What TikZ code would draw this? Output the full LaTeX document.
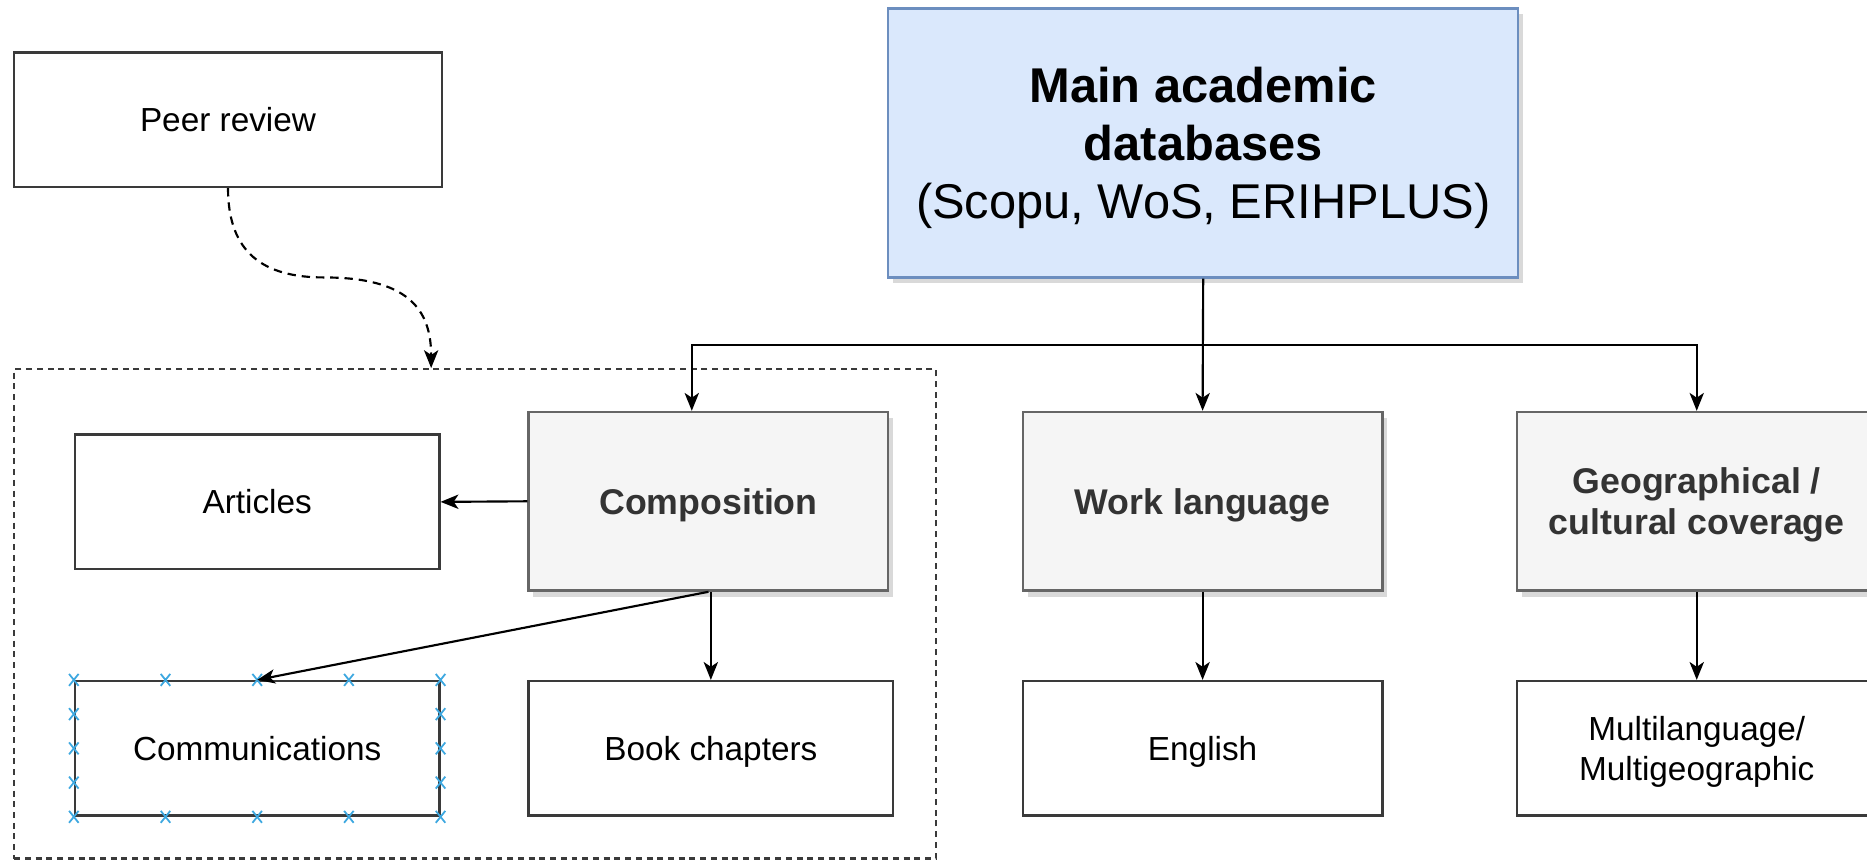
\documentclass[tikz,border=0pt]{standalone}
\usepackage{fontspec}
\setmainfont{Liberation Sans}
\usetikzlibrary{arrows.meta,shadows,calc}
\definecolor{mainfill}{HTML}{DAE8FC}
\definecolor{mainline}{HTML}{6C8EBF}
\definecolor{catfill}{HTML}{F5F5F5}
\definecolor{catline}{HTML}{666666}
\definecolor{catfont}{HTML}{333333}
\definecolor{itemline}{HTML}{3A3A3A}
\definecolor{pointblue}{HTML}{3EA8E0}
\begin{document}
\begin{tikzpicture}[x=1pt,y=-1pt,
	every node/.style={align=center,inner sep=0pt,text depth=0pt},
	item/.style={draw=itemline,line width=2pt,fill=white,minimum width=306pt,minimum height=113pt,
		font=\fontsize{28}{33}\selectfont},
	category/.style={draw=catline,line width=2pt,fill=catfill,text=catfont,minimum width=302pt,minimum height=150pt,
		font=\fontsize{30}{34}\selectfont\bfseries,
		drop shadow={shadow xshift=4pt,shadow yshift=-5pt,opacity=.3}},
	dbbox/.style={draw=mainline,line width=2pt,fill=mainfill,minimum width=529pt,minimum height=226pt,
		font=\fontsize{41}{49}\selectfont,
		drop shadow={shadow xshift=4pt,shadow yshift=-5pt,opacity=.3}},
	group/.style={draw=itemline,line width=1.8pt,dash pattern=on 5pt off 4pt,minimum width=774pt,minimum height=411pt},
	link/.style={line width=1.8pt,-{Stealth[length=15pt,width=12pt,inset=4pt]}},
	dlink/.style={link,dash pattern=on 7pt off 5pt}
	]
  \path[use as bounding box,clip] (0,0) rectangle (1568,724);

  % group around composition
  \node[group] (grp) at (399,515.5) {};

  \node[item,minimum width=359pt] (peer) at (191.5,100.5) {Peer review};
  \node[dbbox] (main) at (1010.5,120) {\textbf{Main academic}\\\textbf{databases}\\(Scopu, WoS, ERIHPLUS)};

  \node[category] (comp) at (595,421) {Composition};
  \node[category] (work) at (1010,421) {Work language};
  \node[category] (geo) at (1425,421) {Geographical /\\cultural coverage};

  \node[item] (art) at (216,421.5) {Articles};
  \node[item] (comm) at (216,628.5) {Communications};
  \node[item] (book) at (597,628.5) {Book chapters};
  \node[item,minimum width=302pt] (eng) at (1010,628.5) {English};
  \node[item,minimum width=302pt] (multi) at (1425,628.5) {Multilanguage/\\Multigeographic};

  % connection points
  \foreach \t in {0,0.25,0.5,0.75,1}{
    \draw[pointblue,line width=1.5pt] ($(comm.north west)!\t!(comm.north east)$) +(-4,-5) -- +(4,5) +(-4,5) -- +(4,-5);
    \draw[pointblue,line width=1.5pt] ($(comm.south west)!\t!(comm.south east)$) +(-4,-5) -- +(4,5) +(-4,5) -- +(4,-5);
  }
  \foreach \t in {0.25,0.5,0.75}{
    \draw[pointblue,line width=1.5pt] ($(comm.north west)!\t!(comm.south west)$) +(-4,-5) -- +(4,5) +(-4,5) -- +(4,-5);
    \draw[pointblue,line width=1.5pt] ($(comm.north east)!\t!(comm.south east)$) +(-4,-5) -- +(4,5) +(-4,5) -- +(4,-5);
  }

  \coordinate (bus) at (1010,290);
  \coordinate (bend) at (272,233);
  \draw[link] (main.south) -- (work.north);
  \draw[link] (bus) -| ([xshift=-14pt]comp.north);
  \draw[link] (bus) -| (geo.north);
  \draw[dlink] (peer.south) .. controls +(0,55) and +(-50,0) .. (bend)
    .. controls +(70,0) and +(0,-50) .. ([xshift=351pt]grp.north west);

  \draw[link] (comp.west) -- (art.east);
  \draw[link] (comp.south) -- (comm.north);
  \draw[link] (comp.south -| book.north) -- (book.north);
  \draw[link] (work.south) -- (eng.north);
  \draw[link] (geo.south) -- (multi.north);
\end{tikzpicture}
\end{document}
